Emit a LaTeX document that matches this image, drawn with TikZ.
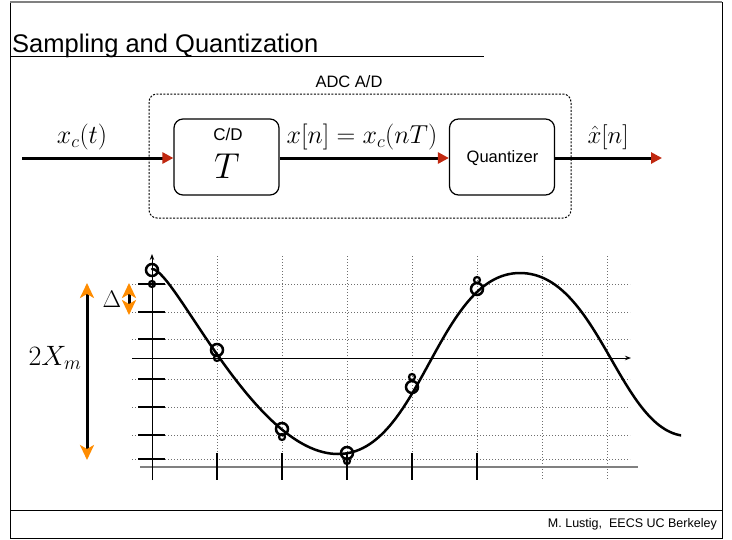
\RequirePackage{fix-cm}
\documentclass[tikz,border=0pt]{standalone}
\usepackage{fontspec}
\setsansfont{Liberation Sans}
\usetikzlibrary{arrows.meta}
\definecolor{arrowred}{RGB}{192,40,16}
\definecolor{tiporange}{RGB}{255,140,0}
\definecolor{gridgray}{RGB}{110,110,110}
\tikzset{
  blk/.style={draw, rounded corners=9pt, line width=1.2pt, minimum width=105pt, minimum height=76pt, inner sep=0pt},
  sig/.style={line width=3pt, -{Triangle[length=11pt,width=11pt,color=arrowred]}},
  sflabel/.style={font=\sffamily\fontsize{#1}{#1}\selectfont, inner sep=0pt},
  mlabel/.style={font=\fontsize{#1}{#1}\selectfont, inner sep=0pt},
  gridline/.style={gridgray, line width=0.8pt, dash pattern=on 1pt off 2pt},
  orangearrow/.style={line width=3pt, {Stealth[length=15pt,width=14pt,inset=4pt,color=tiporange]}-{Stealth[length=15pt,width=14pt,inset=4pt,color=tiporange]}},
  bigsample/.style={line width=2.5pt},
  smallsample/.style={line width=2.2pt},
}
\begin{document}
\begin{tikzpicture}[x=1pt,y=-1pt]
\useasboundingbox (0,0) rectangle (732,539);
% frame
\draw[line width=1pt] (10,2) rectangle (722,538);
\draw[gray, line width=2.5pt] (10,2) -- (722,2);
\draw[line width=1pt] (10,510) -- (722,510);
\node[sflabel=12.5, anchor=east] (footer) at (717,524) {M. Lustig,\ \ EECS UC Berkeley};
% title
\node[sflabel=25.5, anchor=base west] (title) at (12,52) {Sampling and Quantization};
\draw[line width=1.3pt] (10,56.5) -- (484,56.5);

% block diagram
\draw[line width=1pt, dash pattern=on 2pt off 1.5pt, rounded corners=8pt] (149,94) rectangle (571,218);
\node[sflabel=16.5] (adc) at (349,82) {ADC A/D};
\node[blk] (cd) at (226.5,157) {};
\node[sflabel=17] (cdtxt) at (228,134) {C/D};
\node[mlabel=36] (T) at (227,166) {$T$};
\node[blk] (quant) at (502,157) {};
\node[sflabel=16.5] (qtxt) at (502.5,158) {Quantizer};
\coordinate (in) at (22,158);
\coordinate (out) at (662,158);
\draw[sig] (in) -- (cd.west |- in);
\draw[sig] (cd.east |- in) -- (quant.west |- in);
\draw[sig] (quant.east |- in) -- (out);
\node[mlabel=26] (xc) at (82,137) {$x_c(t)$};
\node[mlabel=26] (xn) at (362,137) {$x[n]=x_c(nT)$};
\node[mlabel=25] (xhat) at (608,137) {$\hat{x}[n]$};

% grid
\foreach \gx in {152,217,282,347,412,477,542,607}
  \draw[gridline] (\gx,256) -- (\gx,480);
\foreach \gy in {284,312,339,379,407,435,459}
  \draw[gridline] (132,\gy) -- (630,\gy);
% bottom line and ticks
\draw[gray, line width=1.6pt] (140,467) -- (638,467);
\foreach \gx in {217,282,347,412,477}
  \draw[line width=1.2pt] (\gx,453) -- (\gx,480);
% level ticks
\foreach \gy in {284,312,339,379,407,435,459}
  \draw[line width=1.2pt] (138,\gy) -- (165,\gy);
% axes
\draw[line width=1pt, -{Stealth[length=6pt,width=4.5pt]}] (152,480) -- (152,254);
\draw[line width=1pt, -{Stealth[length=6pt,width=4.5pt]}] (132,358) -- (631,358);

% signal curve
\begin{scope}
\clip (140,240) rectangle (681,480);
\draw[line width=2.5pt, line cap=round] (152,269)
  .. controls (175,269) and (254,454) .. (338,454)
  .. controls (421,454) and (437,273) .. (520,273)
  .. controls (600,273) and (620,436) .. (688,436);
\end{scope}

% samples
\foreach \sx/\sy/\qy in {152/270/284, 217/350/358, 282/429/437, 347/453/461, 412/387/377, 477/289/280} {
  \draw[smallsample] (\sx,\qy) circle (3pt);
  \draw[bigsample] (\sx,\sy) circle (6pt);
}

% range arrows
\draw[orangearrow] (87,283) -- (87,460);
\node[mlabel=28] (twoxm) at (55,358) {$2X_m$};
\draw[orangearrow] (129,283) -- (129,315);
\node[mlabel=24] (delta) at (112,299) {$\Delta$};
\end{tikzpicture}
\end{document}
